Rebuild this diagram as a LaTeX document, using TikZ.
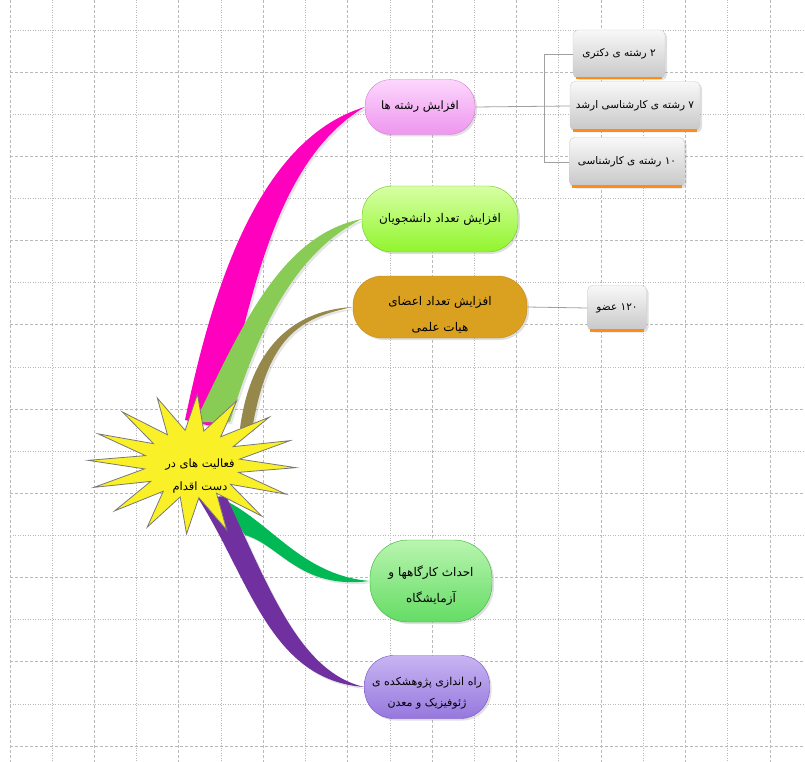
\documentclass[tikz,border=0pt]{standalone}
\usepackage{fontspec}
\newfontfamily\fa[Script=Arabic]{DejaVu Sans}
\TeXXeTstate=1
\usetikzlibrary{shadows}
\newcommand{\rtltext}[1]{\beginR#1\endR}
\definecolor{gridgray}{RGB}{185,185,185}
\definecolor{linkgray}{RGB}{160,160,160}
\definecolor{leaftop}{RGB}{248,248,248}
\definecolor{leafbot}{RGB}{200,200,200}
\definecolor{leafline}{RGB}{205,205,205}
\definecolor{barorange}{RGB}{255,140,20}
\definecolor{stary}{RGB}{250,240,40}
\definecolor{starline}{RGB}{120,120,120}
\definecolor{pinkbr}{RGB}{255,0,190}
\definecolor{limebr}{RGB}{136,204,85}
\definecolor{olivebr}{RGB}{150,135,75}
\definecolor{greenbr}{RGB}{0,185,85}
\definecolor{purplebr}{RGB}{112,48,160}
\definecolor{pinktop}{RGB}{252,215,252}
\definecolor{pinkbody}{RGB}{238,150,238}
\definecolor{pinkline}{RGB}{215,120,215}
\definecolor{limetop}{RGB}{215,255,165}
\definecolor{limebody}{RGB}{145,245,45}
\definecolor{limeline}{RGB}{110,200,40}
\definecolor{goldbody}{RGB}{218,160,32}
\definecolor{goldline}{RGB}{195,140,30}
\definecolor{greentop}{RGB}{185,245,175}
\definecolor{greenbody}{RGB}{100,220,100}
\definecolor{greenline}{RGB}{60,180,60}
\definecolor{purpletop}{RGB}{200,180,242}
\definecolor{purplebody}{RGB}{150,120,222}
\definecolor{purpleline}{RGB}{120,80,200}
\tikzstyle{gmajor}=[draw=gridgray,line width=.8pt,dash pattern=on 3pt off 2pt]
\tikzstyle{gminor}=[draw=gridgray,line width=.8pt,dash pattern=on 1pt off 1.5pt]
\tikzstyle{topic}=[rounded corners=26pt,align=center,font=\fa\fontsize{12}{26}\selectfont,drop shadow={opacity=.25,shadow xshift=2pt,shadow yshift=-2pt}]
\tikzstyle{leaf}=[rounded corners=5pt,draw=leafline,top color=leaftop,bottom color=leafbot,font=\fa\fontsize{10.5}{12}\selectfont,drop shadow={opacity=.25,shadow xshift=2pt,shadow yshift=-2pt}]
\tikzstyle{orbar}=[draw=barorange,line width=2.5pt]
\tikzstyle{link}=[draw=linkgray,line width=.8pt]
\tikzstyle{brshadow}=[drop shadow={opacity=.2,shadow xshift=2pt,shadow yshift=-2pt}]

\begin{document}
\begin{tikzpicture}[x=1pt,y=-1pt]
\useasboundingbox (0,0) rectangle (805,762);
\fill[white] (0,0) rectangle (805,762);
\foreach \i in {0,...,18} {\ifodd\i \draw[gminor] (10+42.22*\i,0) -- (10+42.22*\i,762); \else \draw[gmajor] (10+42.22*\i,0) -- (10+42.22*\i,762); \fi}
\foreach \j in {0,...,17} {\ifodd\j \draw[gmajor] (10,30+42.12*\j) -- (805,30+42.12*\j); \else \draw[gminor] (10,30+42.12*\j) -- (805,30+42.12*\j); \fi}

\node[topic,draw=pinkline,top color=pinktop,bottom color=pinkbody,minimum width=110pt,minimum height=55pt,font=\fa\fontsize{11.5}{20}\selectfont] (pink) at (420,107) {\rtltext{افزایش رشته ها}};
\node[topic,draw=limeline,top color=limetop,bottom color=limebody,minimum width=156pt,minimum height=66pt,rounded corners=30pt] (lime) at (440,219) {\rtltext{افزایش تعداد دانشجویان}};
\node[topic,draw=goldline,fill=goldbody,minimum width=174pt,minimum height=62pt,rounded corners=29pt,text height=50pt] (gold) at (440,307) {\rtltext{افزایش تعداد اعضای}\\\rtltext{هیات علمی}};
\node[topic,draw=greenline,top color=greentop,bottom color=greenbody,minimum width=122pt,minimum height=82pt,rounded corners=38pt,text height=45pt] (green) at (431,581) {\rtltext{احداث کارگاهها و}\\\rtltext{آزمایشگاه}};
\node[topic,draw=purpleline,top color=purpletop,bottom color=purplebody,minimum width=125pt,minimum height=63pt,rounded corners=29pt,font=\fa\fontsize{11}{21}\selectfont,text height=42pt] (purple) at (427,687) {\rtltext{راه اندازی پژوهشکده ی}\\\rtltext{ژئوفیزیک و معدن}};

\node[leaf,minimum width=92pt,minimum height=48pt] (d2) at (619,54) {\rtltext{۲ رشته ی دکتری}};
\node[leaf,minimum width=130pt,minimum height=49pt] (d7) at (635,106) {\rtltext{۷ رشته ی کارشناسی ارشد}};
\node[leaf,minimum width=115pt,minimum height=49pt] (d10) at (627,162) {\rtltext{\beginL۱۰\endL{} رشته ی کارشناسی}};
\node[leaf,minimum width=59pt,minimum height=45pt] (m120) at (617,308) {\rtltext{\beginL۱۲۰\endL{} عضو}};
\draw[orbar] ([xshift=3pt]d2.south west) -- ([xshift=-3pt]d2.south east);
\draw[orbar] ([xshift=3pt]d7.south west) -- ([xshift=-3pt]d7.south east);
\draw[orbar] ([xshift=3pt]d10.south west) -- ([xshift=-3pt]d10.south east);
\draw[orbar] ([xshift=3pt]m120.south west) -- ([xshift=-3pt]m120.south east);

\draw[link] (pink.east) -- (d7.west);
\draw[link] (d2.west) -- ++(-28,0) |- (d10.west);
\draw[link] (gold.east) -- (m120.west);

\fill[pinkbr,brshadow] (185,420) .. controls (210,300) and (255,140) .. (pink.west) .. controls (275,160) and (250,300) .. (220,428) -- cycle;
\fill[olivebr,brshadow] (240,428) .. controls (252,340) and (300,310) .. (gold.west) .. controls (300,318) and (268,335) .. (252,430) -- cycle;
\fill[limebr,brshadow] (195,422) .. controls (240,330) and (280,235) .. (lime.west) .. controls (300,250) and (260,320) .. (230,422) -- cycle;
\fill[greenbr,brshadow] (220,498) .. controls (270,520) and (300,575) .. (green.west) .. controls (300,590) and (280,545) .. (245,535) -- cycle;
\fill[purplebr,brshadow] (198,498) .. controls (250,580) and (270,680) .. (purple.west) .. controls (300,672) and (270,590) .. (226,496) -- cycle;

\filldraw[fill=stary,draw=starline,line width=.8pt] plot[samples at={0,...,31},variable=\k] ({192+ifthenelse(mod(\k,2)==0,104,48)*cos(\k*11.25+3)},{464+ifthenelse(mod(\k,2)==0,70,34)*sin(\k*11.25+3)}) -- cycle;
\node[align=center,font=\fa\fontsize{11.5}{23}\selectfont] (core) at (200,476) {\rtltext{فعالیت های در}\\\rtltext{دست اقدام}};
\end{tikzpicture}
\end{document}
